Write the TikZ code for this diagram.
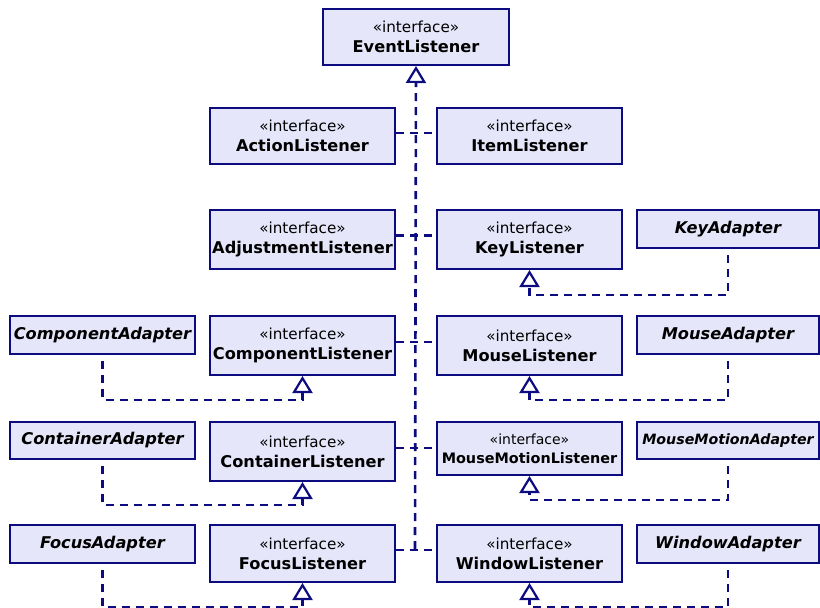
\documentclass[tikz,border=0pt]{standalone}
\usepackage{fontspec}
\setmainfont{DejaVu Sans}
\usetikzlibrary{arrows.meta}
\definecolor{umlline}{RGB}{12,12,128}
\definecolor{umlfill}{RGB}{230,230,250}
\newcommand{\stereo}[1]{{\fontsize{15.2}{20}\selectfont\mdseries\upshape «#1»}}
\begin{document}
\begin{tikzpicture}[x=1pt,y=-1pt,
  box/.style={draw=umlline, fill=umlfill, line width=2pt, inner sep=0pt,
    align=center, anchor=north west, minimum width=185pt},
  iface/.style={box, font=\fontsize{16.2}{20}\selectfont\bfseries},
  smalliface/.style={box, font=\fontsize{14.4}{19}\selectfont\bfseries},
  adapter/.style={box, font=\fontsize{16.2}{20}\selectfont\bfseries\itshape},
  smalladapter/.style={box, font=\fontsize{14.2}{20}\selectfont\bfseries\itshape},
  link/.style={draw=umlline, line width=2.6pt, dash pattern=on 8pt off 6pt},
  real/.style={link, -{Triangle[open, length=17pt, width=20pt, fill=white, line width=2.2pt]}}
]
\useasboundingbox (0,0) rectangle (820,608);

\node[iface, minimum width=186pt, minimum height=56pt] (ev) at (322,8) {\stereo{interface}\\EventListener};

\node[iface, minimum height=56pt] (al) at (209,107) {\stereo{interface}\\ActionListener};
\node[iface, minimum height=56pt] (il) at (436,107) {\stereo{interface}\\ItemListener};

\node[iface, minimum height=59pt] (adj) at (209,209) {\stereo{interface}\\AdjustmentListener};
\node[iface, minimum height=59pt] (kl) at (436,209) {\stereo{interface}\\KeyListener};
\node[adapter, minimum width=182pt, minimum height=38pt] (ka) at (636,209) {KeyAdapter};

\node[adapter, minimum height=38pt] (ca) at (9,315) {ComponentAdapter};
\node[iface, minimum height=59pt] (cl) at (209,315) {\stereo{interface}\\ComponentListener};
\node[iface, minimum height=59pt] (ml) at (436,315) {\stereo{interface}\\MouseListener};
\node[adapter, minimum width=182pt, minimum height=38pt] (ma) at (636,315) {MouseAdapter};

\node[adapter, minimum height=37pt] (coa) at (9,421) {ContainerAdapter};
\node[iface, minimum height=59pt] (col) at (209,421) {\stereo{interface}\\ContainerListener};
\node[smalliface, minimum height=53pt] (mml) at (436,421) {{\fontsize{14}{19}\selectfont\mdseries «interface»}\\MouseMotionListener};
\node[smalladapter, minimum width=182pt, minimum height=37pt] (mma) at (636,421) {MouseMotionAdapter};

\node[adapter, minimum height=38pt] (fa) at (9,524) {FocusAdapter};
\node[iface, minimum height=57pt] (fl) at (209,524) {\stereo{interface}\\FocusListener};
\node[iface, minimum height=57pt] (wl) at (436,524) {\stereo{interface}\\WindowListener};
\node[adapter, minimum width=182pt, minimum height=38pt] (wa) at (636,524) {WindowAdapter};

% trunk to EventListener
\coordinate (tb) at (415,549);
\draw[real] (tb) -- (ev.south);

% branches
\draw[link] ([yshift=3pt]al.east) -- ([yshift=3pt]al.east -| il.west);
\draw[link] ([yshift=4pt]adj.east) -- ([yshift=4pt]adj.east -| kl.west);
\draw[link] ([yshift=3.5pt]cl.east) -- ([yshift=3.5pt]cl.east -| ml.west);
\draw[link] ([yshift=3.5pt]col.east) -- ([yshift=3.5pt]col.east -| mml.west);
\draw[link] ([yshift=3.5pt]fl.east) -- ([yshift=3.5pt]fl.east -| wl.west);

% adapters
\draw[real] ([yshift=-6pt]ka.south) |- ([yshift=-25pt]kl.south) -- (kl.south);
\draw[real] ([yshift=-6pt]ma.south) |- ([yshift=-24pt]ml.south) -- (ml.south);
\draw[real] ([yshift=-6pt]mma.south) |- ([yshift=-24pt]mml.south) -- (mml.south);
\draw[real] ([yshift=-6pt]wa.south) |- ([yshift=-24pt]wl.south) -- (wl.south);
\draw[real] ([yshift=-6pt]ca.south) |- ([yshift=-24pt]cl.south) -- (cl.south);
\draw[real] ([yshift=-6pt]coa.south) |- ([yshift=-23pt]col.south) -- (col.south);
\draw[real] ([yshift=-6pt]fa.south) |- ([yshift=-24pt]fl.south) -- (fl.south);
\end{tikzpicture}
\end{document}
